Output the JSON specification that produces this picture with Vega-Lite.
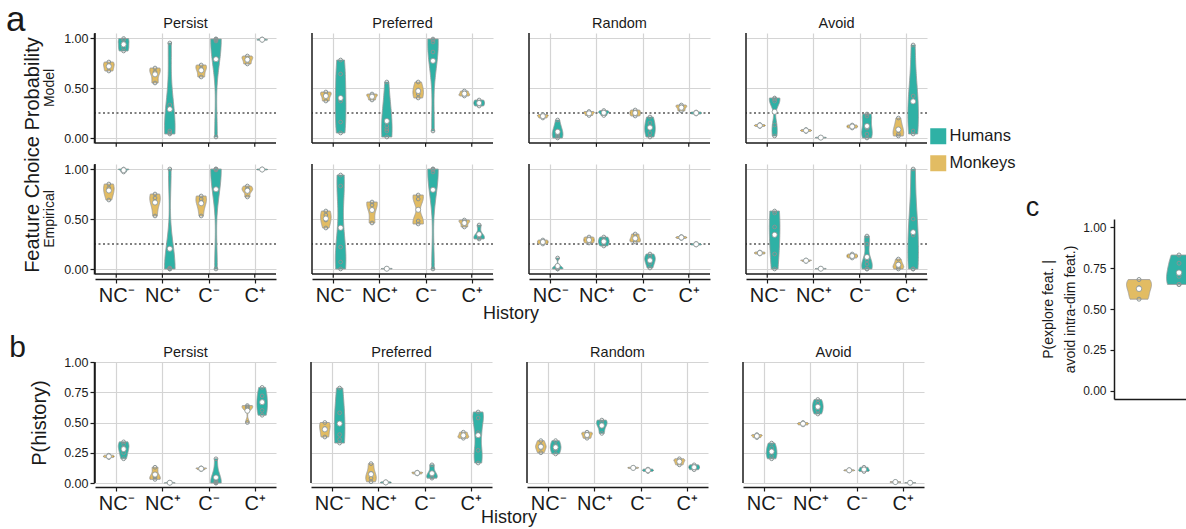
{
"$schema":"https://vega.github.io/schema/vega-lite/v6.json",
"padding":{"left":6,"top":2,"right":0,"bottom":0},
"config":{
 "font":"Liberation Sans",
 "view":{"stroke":null},
 "axis":{"gridColor":"#d4d4d4","gridWidth":1.2,"domainColor":"#1a1a1a","domainWidth":1.5,"tickColor":"#1a1a1a","tickWidth":1.2,"tickSize":4,"labelColor":"#1a1a1a","titleColor":"#1a1a1a","titleFontWeight":"normal","labelFontSize":12.5,"labelOverlap":false},
 "axisY":{"labelOverlap":false},
 "axisQuantitative":{"labelOverlap":false},
 "header":{"labelColor":"#1a1a1a","titleColor":"#1a1a1a","titleFontWeight":"normal"},
 "title":{"fontWeight":"normal","color":"#1a1a1a"}
},
"datasets":{
"a":[
{"p":"Model","c":"Persist","h":"NC-","s":"Monkeys","v":0.76},{"p":"Model","c":"Persist","h":"NC-","s":"Monkeys","v":0.72},{"p":"Model","c":"Persist","h":"NC-","s":"Monkeys","v":0.67},
{"p":"Model","c":"Persist","h":"NC-","s":"Humans","v":0.995},{"p":"Model","c":"Persist","h":"NC-","s":"Humans","v":0.98},{"p":"Model","c":"Persist","h":"NC-","s":"Humans","v":0.90},{"p":"Model","c":"Persist","h":"NC-","s":"Humans","v":0.87},
{"p":"Model","c":"Persist","h":"NC+","s":"Monkeys","v":0.70},{"p":"Model","c":"Persist","h":"NC+","s":"Monkeys","v":0.66},{"p":"Model","c":"Persist","h":"NC+","s":"Monkeys","v":0.55},
{"p":"Model","c":"Persist","h":"NC+","s":"Humans","v":0.95},{"p":"Model","c":"Persist","h":"NC+","s":"Humans","v":0.33},{"p":"Model","c":"Persist","h":"NC+","s":"Humans","v":0.07},{"p":"Model","c":"Persist","h":"NC+","s":"Humans","v":0.05},{"p":"Model","c":"Persist","h":"NC+","s":"Humans","v":0.04},
{"p":"Model","c":"Persist","h":"C-","s":"Monkeys","v":0.73},{"p":"Model","c":"Persist","h":"C-","s":"Monkeys","v":0.69},{"p":"Model","c":"Persist","h":"C-","s":"Monkeys","v":0.61},
{"p":"Model","c":"Persist","h":"C-","s":"Humans","v":0.99},{"p":"Model","c":"Persist","h":"C-","s":"Humans","v":0.99},{"p":"Model","c":"Persist","h":"C-","s":"Humans","v":0.98},{"p":"Model","c":"Persist","h":"C-","s":"Humans","v":0.97},{"p":"Model","c":"Persist","h":"C-","s":"Humans","v":0.01},
{"p":"Model","c":"Persist","h":"C+","s":"Monkeys","v":0.82},{"p":"Model","c":"Persist","h":"C+","s":"Monkeys","v":0.79},{"p":"Model","c":"Persist","h":"C+","s":"Monkeys","v":0.74},
{"p":"Model","c":"Persist","h":"C+","s":"Humans","v":0.99},{"p":"Model","c":"Persist","h":"C+","s":"Humans","v":0.985},{"p":"Model","c":"Persist","h":"C+","s":"Humans","v":0.98},{"p":"Model","c":"Persist","h":"C+","s":"Humans","v":0.978},
{"p":"Model","c":"Preferred","h":"NC-","s":"Monkeys","v":0.46},{"p":"Model","c":"Preferred","h":"NC-","s":"Monkeys","v":0.43},{"p":"Model","c":"Preferred","h":"NC-","s":"Monkeys","v":0.37},
{"p":"Model","c":"Preferred","h":"NC-","s":"Humans","v":0.78},{"p":"Model","c":"Preferred","h":"NC-","s":"Humans","v":0.64},{"p":"Model","c":"Preferred","h":"NC-","s":"Humans","v":0.37},{"p":"Model","c":"Preferred","h":"NC-","s":"Humans","v":0.16},{"p":"Model","c":"Preferred","h":"NC-","s":"Humans","v":0.05},
{"p":"Model","c":"Preferred","h":"NC+","s":"Monkeys","v":0.44},{"p":"Model","c":"Preferred","h":"NC+","s":"Monkeys","v":0.42},{"p":"Model","c":"Preferred","h":"NC+","s":"Monkeys","v":0.38},
{"p":"Model","c":"Preferred","h":"NC+","s":"Humans","v":0.56},{"p":"Model","c":"Preferred","h":"NC+","s":"Humans","v":0.12},{"p":"Model","c":"Preferred","h":"NC+","s":"Humans","v":0.09},{"p":"Model","c":"Preferred","h":"NC+","s":"Humans","v":0.07},{"p":"Model","c":"Preferred","h":"NC+","s":"Humans","v":0.01},
{"p":"Model","c":"Preferred","h":"C-","s":"Monkeys","v":0.56},{"p":"Model","c":"Preferred","h":"C-","s":"Monkeys","v":0.48},{"p":"Model","c":"Preferred","h":"C-","s":"Monkeys","v":0.44},{"p":"Model","c":"Preferred","h":"C-","s":"Monkeys","v":0.40},
{"p":"Model","c":"Preferred","h":"C-","s":"Humans","v":0.99},{"p":"Model","c":"Preferred","h":"C-","s":"Humans","v":0.98},{"p":"Model","c":"Preferred","h":"C-","s":"Humans","v":0.96},{"p":"Model","c":"Preferred","h":"C-","s":"Humans","v":0.86},{"p":"Model","c":"Preferred","h":"C-","s":"Humans","v":0.07},
{"p":"Model","c":"Preferred","h":"C+","s":"Monkeys","v":0.47},{"p":"Model","c":"Preferred","h":"C+","s":"Monkeys","v":0.44},{"p":"Model","c":"Preferred","h":"C+","s":"Monkeys","v":0.42},
{"p":"Model","c":"Preferred","h":"C+","s":"Humans","v":0.38},{"p":"Model","c":"Preferred","h":"C+","s":"Humans","v":0.35},{"p":"Model","c":"Preferred","h":"C+","s":"Humans","v":0.32},
{"p":"Model","c":"Random","h":"NC-","s":"Monkeys","v":0.235},{"p":"Model","c":"Random","h":"NC-","s":"Monkeys","v":0.22},{"p":"Model","c":"Random","h":"NC-","s":"Monkeys","v":0.20},
{"p":"Model","c":"Random","h":"NC-","s":"Humans","v":0.18},{"p":"Model","c":"Random","h":"NC-","s":"Humans","v":0.07},{"p":"Model","c":"Random","h":"NC-","s":"Humans","v":0.04},{"p":"Model","c":"Random","h":"NC-","s":"Humans","v":0.02},{"p":"Model","c":"Random","h":"NC-","s":"Humans","v":0.0},
{"p":"Model","c":"Random","h":"NC+","s":"Monkeys","v":0.265},{"p":"Model","c":"Random","h":"NC+","s":"Monkeys","v":0.25},{"p":"Model","c":"Random","h":"NC+","s":"Monkeys","v":0.225},
{"p":"Model","c":"Random","h":"NC+","s":"Humans","v":0.275},{"p":"Model","c":"Random","h":"NC+","s":"Humans","v":0.26},{"p":"Model","c":"Random","h":"NC+","s":"Humans","v":0.25},{"p":"Model","c":"Random","h":"NC+","s":"Humans","v":0.225},
{"p":"Model","c":"Random","h":"C-","s":"Monkeys","v":0.28},{"p":"Model","c":"Random","h":"C-","s":"Monkeys","v":0.25},{"p":"Model","c":"Random","h":"C-","s":"Monkeys","v":0.22},
{"p":"Model","c":"Random","h":"C-","s":"Humans","v":0.21},{"p":"Model","c":"Random","h":"C-","s":"Humans","v":0.15},{"p":"Model","c":"Random","h":"C-","s":"Humans","v":0.10},{"p":"Model","c":"Random","h":"C-","s":"Humans","v":0.05},{"p":"Model","c":"Random","h":"C-","s":"Humans","v":0.01},
{"p":"Model","c":"Random","h":"C+","s":"Monkeys","v":0.33},{"p":"Model","c":"Random","h":"C+","s":"Monkeys","v":0.31},{"p":"Model","c":"Random","h":"C+","s":"Monkeys","v":0.27},
{"p":"Model","c":"Random","h":"C+","s":"Humans","v":0.26},{"p":"Model","c":"Random","h":"C+","s":"Humans","v":0.25},{"p":"Model","c":"Random","h":"C+","s":"Humans","v":0.24},
{"p":"Model","c":"Avoid","h":"NC-","s":"Monkeys","v":0.135},{"p":"Model","c":"Avoid","h":"NC-","s":"Monkeys","v":0.125},{"p":"Model","c":"Avoid","h":"NC-","s":"Monkeys","v":0.115},
{"p":"Model","c":"Avoid","h":"NC-","s":"Humans","v":0.40},{"p":"Model","c":"Avoid","h":"NC-","s":"Humans","v":0.39},{"p":"Model","c":"Avoid","h":"NC-","s":"Humans","v":0.37},{"p":"Model","c":"Avoid","h":"NC-","s":"Humans","v":0.13},{"p":"Model","c":"Avoid","h":"NC-","s":"Humans","v":0.02},
{"p":"Model","c":"Avoid","h":"NC+","s":"Monkeys","v":0.085},{"p":"Model","c":"Avoid","h":"NC+","s":"Monkeys","v":0.075},{"p":"Model","c":"Avoid","h":"NC+","s":"Monkeys","v":0.065},
{"p":"Model","c":"Avoid","h":"NC+","s":"Humans","v":0.008},{"p":"Model","c":"Avoid","h":"NC+","s":"Humans","v":0.004},{"p":"Model","c":"Avoid","h":"NC+","s":"Humans","v":0.0},
{"p":"Model","c":"Avoid","h":"C-","s":"Monkeys","v":0.13},{"p":"Model","c":"Avoid","h":"C-","s":"Monkeys","v":0.115},{"p":"Model","c":"Avoid","h":"C-","s":"Monkeys","v":0.10},
{"p":"Model","c":"Avoid","h":"C-","s":"Humans","v":0.24},{"p":"Model","c":"Avoid","h":"C-","s":"Humans","v":0.22},{"p":"Model","c":"Avoid","h":"C-","s":"Humans","v":0.10},{"p":"Model","c":"Avoid","h":"C-","s":"Humans","v":0.04},{"p":"Model","c":"Avoid","h":"C-","s":"Humans","v":0.0},
{"p":"Model","c":"Avoid","h":"C+","s":"Monkeys","v":0.20},{"p":"Model","c":"Avoid","h":"C+","s":"Monkeys","v":0.08},{"p":"Model","c":"Avoid","h":"C+","s":"Monkeys","v":0.04},{"p":"Model","c":"Avoid","h":"C+","s":"Monkeys","v":0.02},
{"p":"Model","c":"Avoid","h":"C+","s":"Humans","v":0.93},{"p":"Model","c":"Avoid","h":"C+","s":"Humans","v":0.42},{"p":"Model","c":"Avoid","h":"C+","s":"Humans","v":0.37},{"p":"Model","c":"Avoid","h":"C+","s":"Humans","v":0.07},{"p":"Model","c":"Avoid","h":"C+","s":"Humans","v":0.04},
{"p":"Empirical","c":"Persist","h":"NC-","s":"Monkeys","v":0.85},{"p":"Empirical","c":"Persist","h":"NC-","s":"Monkeys","v":0.81},{"p":"Empirical","c":"Persist","h":"NC-","s":"Monkeys","v":0.79},{"p":"Empirical","c":"Persist","h":"NC-","s":"Monkeys","v":0.69},
{"p":"Empirical","c":"Persist","h":"NC-","s":"Humans","v":1.0},{"p":"Empirical","c":"Persist","h":"NC-","s":"Humans","v":0.995},{"p":"Empirical","c":"Persist","h":"NC-","s":"Humans","v":0.97},
{"p":"Empirical","c":"Persist","h":"NC+","s":"Monkeys","v":0.75},{"p":"Empirical","c":"Persist","h":"NC+","s":"Monkeys","v":0.71},{"p":"Empirical","c":"Persist","h":"NC+","s":"Monkeys","v":0.67},{"p":"Empirical","c":"Persist","h":"NC+","s":"Monkeys","v":0.53},
{"p":"Empirical","c":"Persist","h":"NC+","s":"Humans","v":1.0},{"p":"Empirical","c":"Persist","h":"NC+","s":"Humans","v":0.01},{"p":"Empirical","c":"Persist","h":"NC+","s":"Humans","v":0.005},{"p":"Empirical","c":"Persist","h":"NC+","s":"Humans","v":0.0},{"p":"Empirical","c":"Persist","h":"NC+","s":"Humans","v":0.0},
{"p":"Empirical","c":"Persist","h":"C-","s":"Monkeys","v":0.73},{"p":"Empirical","c":"Persist","h":"C-","s":"Monkeys","v":0.70},{"p":"Empirical","c":"Persist","h":"C-","s":"Monkeys","v":0.67},{"p":"Empirical","c":"Persist","h":"C-","s":"Monkeys","v":0.53},
{"p":"Empirical","c":"Persist","h":"C-","s":"Humans","v":1.0},{"p":"Empirical","c":"Persist","h":"C-","s":"Humans","v":1.0},{"p":"Empirical","c":"Persist","h":"C-","s":"Humans","v":0.995},{"p":"Empirical","c":"Persist","h":"C-","s":"Humans","v":0.99},{"p":"Empirical","c":"Persist","h":"C-","s":"Humans","v":0.0},
{"p":"Empirical","c":"Persist","h":"C+","s":"Monkeys","v":0.83},{"p":"Empirical","c":"Persist","h":"C+","s":"Monkeys","v":0.80},{"p":"Empirical","c":"Persist","h":"C+","s":"Monkeys","v":0.78},{"p":"Empirical","c":"Persist","h":"C+","s":"Monkeys","v":0.72},
{"p":"Empirical","c":"Persist","h":"C+","s":"Humans","v":1.0},{"p":"Empirical","c":"Persist","h":"C+","s":"Humans","v":0.995},{"p":"Empirical","c":"Persist","h":"C+","s":"Humans","v":0.99},
{"p":"Empirical","c":"Preferred","h":"NC-","s":"Monkeys","v":0.58},{"p":"Empirical","c":"Preferred","h":"NC-","s":"Monkeys","v":0.54},{"p":"Empirical","c":"Preferred","h":"NC-","s":"Monkeys","v":0.49},{"p":"Empirical","c":"Preferred","h":"NC-","s":"Monkeys","v":0.41},
{"p":"Empirical","c":"Preferred","h":"NC-","s":"Humans","v":0.94},{"p":"Empirical","c":"Preferred","h":"NC-","s":"Humans","v":0.83},{"p":"Empirical","c":"Preferred","h":"NC-","s":"Humans","v":0.22},{"p":"Empirical","c":"Preferred","h":"NC-","s":"Humans","v":0.07},{"p":"Empirical","c":"Preferred","h":"NC-","s":"Humans","v":0.0},
{"p":"Empirical","c":"Preferred","h":"NC+","s":"Monkeys","v":0.67},{"p":"Empirical","c":"Preferred","h":"NC+","s":"Monkeys","v":0.64},{"p":"Empirical","c":"Preferred","h":"NC+","s":"Monkeys","v":0.46},
{"p":"Empirical","c":"Preferred","h":"NC+","s":"Humans","v":0.006},{"p":"Empirical","c":"Preferred","h":"NC+","s":"Humans","v":0.003},{"p":"Empirical","c":"Preferred","h":"NC+","s":"Humans","v":0.0},
{"p":"Empirical","c":"Preferred","h":"C-","s":"Monkeys","v":0.74},{"p":"Empirical","c":"Preferred","h":"C-","s":"Monkeys","v":0.70},{"p":"Empirical","c":"Preferred","h":"C-","s":"Monkeys","v":0.48},{"p":"Empirical","c":"Preferred","h":"C-","s":"Monkeys","v":0.45},
{"p":"Empirical","c":"Preferred","h":"C-","s":"Humans","v":1.0},{"p":"Empirical","c":"Preferred","h":"C-","s":"Humans","v":1.0},{"p":"Empirical","c":"Preferred","h":"C-","s":"Humans","v":0.99},{"p":"Empirical","c":"Preferred","h":"C-","s":"Humans","v":0.97},{"p":"Empirical","c":"Preferred","h":"C-","s":"Humans","v":0.0},
{"p":"Empirical","c":"Preferred","h":"C+","s":"Monkeys","v":0.49},{"p":"Empirical","c":"Preferred","h":"C+","s":"Monkeys","v":0.47},{"p":"Empirical","c":"Preferred","h":"C+","s":"Monkeys","v":0.42},
{"p":"Empirical","c":"Preferred","h":"C+","s":"Humans","v":0.44},{"p":"Empirical","c":"Preferred","h":"C+","s":"Humans","v":0.34},{"p":"Empirical","c":"Preferred","h":"C+","s":"Humans","v":0.31},{"p":"Empirical","c":"Preferred","h":"C+","s":"Humans","v":0.30},
{"p":"Empirical","c":"Random","h":"NC-","s":"Monkeys","v":0.29},{"p":"Empirical","c":"Random","h":"NC-","s":"Monkeys","v":0.27},{"p":"Empirical","c":"Random","h":"NC-","s":"Monkeys","v":0.25},
{"p":"Empirical","c":"Random","h":"NC-","s":"Humans","v":0.11},{"p":"Empirical","c":"Random","h":"NC-","s":"Humans","v":0.03},{"p":"Empirical","c":"Random","h":"NC-","s":"Humans","v":0.01},{"p":"Empirical","c":"Random","h":"NC-","s":"Humans","v":0.0},{"p":"Empirical","c":"Random","h":"NC-","s":"Humans","v":0.0},
{"p":"Empirical","c":"Random","h":"NC+","s":"Monkeys","v":0.32},{"p":"Empirical","c":"Random","h":"NC+","s":"Monkeys","v":0.29},{"p":"Empirical","c":"Random","h":"NC+","s":"Monkeys","v":0.26},
{"p":"Empirical","c":"Random","h":"NC+","s":"Humans","v":0.32},{"p":"Empirical","c":"Random","h":"NC+","s":"Humans","v":0.29},{"p":"Empirical","c":"Random","h":"NC+","s":"Humans","v":0.26},{"p":"Empirical","c":"Random","h":"NC+","s":"Humans","v":0.23},
{"p":"Empirical","c":"Random","h":"C-","s":"Monkeys","v":0.35},{"p":"Empirical","c":"Random","h":"C-","s":"Monkeys","v":0.30},{"p":"Empirical","c":"Random","h":"C-","s":"Monkeys","v":0.27},
{"p":"Empirical","c":"Random","h":"C-","s":"Humans","v":0.15},{"p":"Empirical","c":"Random","h":"C-","s":"Humans","v":0.12},{"p":"Empirical","c":"Random","h":"C-","s":"Humans","v":0.09},{"p":"Empirical","c":"Random","h":"C-","s":"Humans","v":0.06},{"p":"Empirical","c":"Random","h":"C-","s":"Humans","v":0.01},
{"p":"Empirical","c":"Random","h":"C+","s":"Monkeys","v":0.325},{"p":"Empirical","c":"Random","h":"C+","s":"Monkeys","v":0.315},{"p":"Empirical","c":"Random","h":"C+","s":"Monkeys","v":0.305},
{"p":"Empirical","c":"Random","h":"C+","s":"Humans","v":0.255},{"p":"Empirical","c":"Random","h":"C+","s":"Humans","v":0.247},{"p":"Empirical","c":"Random","h":"C+","s":"Humans","v":0.24},
{"p":"Empirical","c":"Avoid","h":"NC-","s":"Monkeys","v":0.17},{"p":"Empirical","c":"Avoid","h":"NC-","s":"Monkeys","v":0.16},{"p":"Empirical","c":"Avoid","h":"NC-","s":"Monkeys","v":0.15},
{"p":"Empirical","c":"Avoid","h":"NC-","s":"Humans","v":0.58},{"p":"Empirical","c":"Avoid","h":"NC-","s":"Humans","v":0.56},{"p":"Empirical","c":"Avoid","h":"NC-","s":"Humans","v":0.42},{"p":"Empirical","c":"Avoid","h":"NC-","s":"Humans","v":0.15},{"p":"Empirical","c":"Avoid","h":"NC-","s":"Humans","v":0.0},
{"p":"Empirical","c":"Avoid","h":"NC+","s":"Monkeys","v":0.09},{"p":"Empirical","c":"Avoid","h":"NC+","s":"Monkeys","v":0.085},{"p":"Empirical","c":"Avoid","h":"NC+","s":"Monkeys","v":0.075},
{"p":"Empirical","c":"Avoid","h":"NC+","s":"Humans","v":0.006},{"p":"Empirical","c":"Avoid","h":"NC+","s":"Humans","v":0.003},{"p":"Empirical","c":"Avoid","h":"NC+","s":"Humans","v":0.0},
{"p":"Empirical","c":"Avoid","h":"C-","s":"Monkeys","v":0.15},{"p":"Empirical","c":"Avoid","h":"C-","s":"Monkeys","v":0.13},{"p":"Empirical","c":"Avoid","h":"C-","s":"Monkeys","v":0.11},
{"p":"Empirical","c":"Avoid","h":"C-","s":"Humans","v":0.33},{"p":"Empirical","c":"Avoid","h":"C-","s":"Humans","v":0.25},{"p":"Empirical","c":"Avoid","h":"C-","s":"Humans","v":0.09},{"p":"Empirical","c":"Avoid","h":"C-","s":"Humans","v":0.05},{"p":"Empirical","c":"Avoid","h":"C-","s":"Humans","v":0.0},{"p":"Empirical","c":"Avoid","h":"C-","s":"Humans","v":0.0},
{"p":"Empirical","c":"Avoid","h":"C+","s":"Monkeys","v":0.10},{"p":"Empirical","c":"Avoid","h":"C+","s":"Monkeys","v":0.05},{"p":"Empirical","c":"Avoid","h":"C+","s":"Monkeys","v":0.02},{"p":"Empirical","c":"Avoid","h":"C+","s":"Monkeys","v":0.0},
{"p":"Empirical","c":"Avoid","h":"C+","s":"Humans","v":1.0},{"p":"Empirical","c":"Avoid","h":"C+","s":"Humans","v":0.5},{"p":"Empirical","c":"Avoid","h":"C+","s":"Humans","v":0.34},{"p":"Empirical","c":"Avoid","h":"C+","s":"Humans","v":0.0},{"p":"Empirical","c":"Avoid","h":"C+","s":"Humans","v":0.0}
],
"b":[
{"c":"Persist","h":"NC-","s":"Monkeys","v":0.23},{"c":"Persist","h":"NC-","s":"Monkeys","v":0.22},{"c":"Persist","h":"NC-","s":"Monkeys","v":0.21},
{"c":"Persist","h":"NC-","s":"Humans","v":0.34},{"c":"Persist","h":"NC-","s":"Humans","v":0.32},{"c":"Persist","h":"NC-","s":"Humans","v":0.29},{"c":"Persist","h":"NC-","s":"Humans","v":0.25},{"c":"Persist","h":"NC-","s":"Humans","v":0.20},
{"c":"Persist","h":"NC+","s":"Monkeys","v":0.13},{"c":"Persist","h":"NC+","s":"Monkeys","v":0.05},{"c":"Persist","h":"NC+","s":"Monkeys","v":0.03},
{"c":"Persist","h":"NC+","s":"Humans","v":0.006},{"c":"Persist","h":"NC+","s":"Humans","v":0.003},{"c":"Persist","h":"NC+","s":"Humans","v":0.0},{"c":"Persist","h":"NC+","s":"Humans","v":0.0},
{"c":"Persist","h":"C-","s":"Monkeys","v":0.125},{"c":"Persist","h":"C-","s":"Monkeys","v":0.12},{"c":"Persist","h":"C-","s":"Monkeys","v":0.11},
{"c":"Persist","h":"C-","s":"Humans","v":0.20},{"c":"Persist","h":"C-","s":"Humans","v":0.02},{"c":"Persist","h":"C-","s":"Humans","v":0.01},{"c":"Persist","h":"C-","s":"Humans","v":0.0},{"c":"Persist","h":"C-","s":"Humans","v":0.0},
{"c":"Persist","h":"C+","s":"Monkeys","v":0.64},{"c":"Persist","h":"C+","s":"Monkeys","v":0.63},{"c":"Persist","h":"C+","s":"Monkeys","v":0.62},{"c":"Persist","h":"C+","s":"Monkeys","v":0.50},
{"c":"Persist","h":"C+","s":"Humans","v":0.79},{"c":"Persist","h":"C+","s":"Humans","v":0.72},{"c":"Persist","h":"C+","s":"Humans","v":0.67},{"c":"Persist","h":"C+","s":"Humans","v":0.60},{"c":"Persist","h":"C+","s":"Humans","v":0.56},
{"c":"Preferred","h":"NC-","s":"Monkeys","v":0.50},{"c":"Preferred","h":"NC-","s":"Monkeys","v":0.45},{"c":"Preferred","h":"NC-","s":"Monkeys","v":0.38},
{"c":"Preferred","h":"NC-","s":"Humans","v":0.785},{"c":"Preferred","h":"NC-","s":"Humans","v":0.58},{"c":"Preferred","h":"NC-","s":"Humans","v":0.40},{"c":"Preferred","h":"NC-","s":"Humans","v":0.36},{"c":"Preferred","h":"NC-","s":"Humans","v":0.33},
{"c":"Preferred","h":"NC+","s":"Monkeys","v":0.16},{"c":"Preferred","h":"NC+","s":"Monkeys","v":0.08},{"c":"Preferred","h":"NC+","s":"Monkeys","v":0.04},{"c":"Preferred","h":"NC+","s":"Monkeys","v":0.01},
{"c":"Preferred","h":"NC+","s":"Humans","v":0.01},{"c":"Preferred","h":"NC+","s":"Humans","v":0.005},{"c":"Preferred","h":"NC+","s":"Humans","v":0.0},
{"c":"Preferred","h":"C-","s":"Monkeys","v":0.09},{"c":"Preferred","h":"C-","s":"Monkeys","v":0.083},{"c":"Preferred","h":"C-","s":"Monkeys","v":0.075},
{"c":"Preferred","h":"C-","s":"Humans","v":0.15},{"c":"Preferred","h":"C-","s":"Humans","v":0.08},{"c":"Preferred","h":"C-","s":"Humans","v":0.05},{"c":"Preferred","h":"C-","s":"Humans","v":0.04},
{"c":"Preferred","h":"C+","s":"Monkeys","v":0.42},{"c":"Preferred","h":"C+","s":"Monkeys","v":0.39},{"c":"Preferred","h":"C+","s":"Monkeys","v":0.37},
{"c":"Preferred","h":"C+","s":"Humans","v":0.587},{"c":"Preferred","h":"C+","s":"Humans","v":0.537},{"c":"Preferred","h":"C+","s":"Humans","v":0.416},{"c":"Preferred","h":"C+","s":"Humans","v":0.27},{"c":"Preferred","h":"C+","s":"Humans","v":0.165},
{"c":"Random","h":"NC-","s":"Monkeys","v":0.35},{"c":"Random","h":"NC-","s":"Monkeys","v":0.31},{"c":"Random","h":"NC-","s":"Monkeys","v":0.29},{"c":"Random","h":"NC-","s":"Monkeys","v":0.25},
{"c":"Random","h":"NC-","s":"Humans","v":0.35},{"c":"Random","h":"NC-","s":"Humans","v":0.31},{"c":"Random","h":"NC-","s":"Humans","v":0.28},{"c":"Random","h":"NC-","s":"Humans","v":0.24},
{"c":"Random","h":"NC+","s":"Monkeys","v":0.42},{"c":"Random","h":"NC+","s":"Monkeys","v":0.40},{"c":"Random","h":"NC+","s":"Monkeys","v":0.37},
{"c":"Random","h":"NC+","s":"Humans","v":0.52},{"c":"Random","h":"NC+","s":"Humans","v":0.50},{"c":"Random","h":"NC+","s":"Humans","v":0.47},{"c":"Random","h":"NC+","s":"Humans","v":0.41},
{"c":"Random","h":"C-","s":"Monkeys","v":0.13},{"c":"Random","h":"C-","s":"Monkeys","v":0.125},{"c":"Random","h":"C-","s":"Monkeys","v":0.12},
{"c":"Random","h":"C-","s":"Humans","v":0.115},{"c":"Random","h":"C-","s":"Humans","v":0.105},{"c":"Random","h":"C-","s":"Humans","v":0.095},
{"c":"Random","h":"C+","s":"Monkeys","v":0.20},{"c":"Random","h":"C+","s":"Monkeys","v":0.18},{"c":"Random","h":"C+","s":"Monkeys","v":0.15},
{"c":"Random","h":"C+","s":"Humans","v":0.15},{"c":"Random","h":"C+","s":"Humans","v":0.13},{"c":"Random","h":"C+","s":"Humans","v":0.11},
{"c":"Avoid","h":"NC-","s":"Monkeys","v":0.40},{"c":"Avoid","h":"NC-","s":"Monkeys","v":0.39},{"c":"Avoid","h":"NC-","s":"Monkeys","v":0.375},
{"c":"Avoid","h":"NC-","s":"Humans","v":0.33},{"c":"Avoid","h":"NC-","s":"Humans","v":0.29},{"c":"Avoid","h":"NC-","s":"Humans","v":0.26},{"c":"Avoid","h":"NC-","s":"Humans","v":0.22},{"c":"Avoid","h":"NC-","s":"Humans","v":0.20},
{"c":"Avoid","h":"NC+","s":"Monkeys","v":0.50},{"c":"Avoid","h":"NC+","s":"Monkeys","v":0.49},{"c":"Avoid","h":"NC+","s":"Monkeys","v":0.48},
{"c":"Avoid","h":"NC+","s":"Humans","v":0.69},{"c":"Avoid","h":"NC+","s":"Humans","v":0.66},{"c":"Avoid","h":"NC+","s":"Humans","v":0.63},{"c":"Avoid","h":"NC+","s":"Humans","v":0.60},{"c":"Avoid","h":"NC+","s":"Humans","v":0.57},
{"c":"Avoid","h":"C-","s":"Monkeys","v":0.11},{"c":"Avoid","h":"C-","s":"Monkeys","v":0.105},{"c":"Avoid","h":"C-","s":"Monkeys","v":0.10},
{"c":"Avoid","h":"C-","s":"Humans","v":0.13},{"c":"Avoid","h":"C-","s":"Humans","v":0.11},{"c":"Avoid","h":"C-","s":"Humans","v":0.095},
{"c":"Avoid","h":"C+","s":"Monkeys","v":0.012},{"c":"Avoid","h":"C+","s":"Monkeys","v":0.008},{"c":"Avoid","h":"C+","s":"Monkeys","v":0.004},
{"c":"Avoid","h":"C+","s":"Humans","v":0.004},{"c":"Avoid","h":"C+","s":"Humans","v":0.002},{"c":"Avoid","h":"C+","s":"Humans","v":0.0}
],
"c":[
{"s":"Monkeys","v":0.68},{"s":"Monkeys","v":0.63},{"s":"Monkeys","v":0.56},
{"s":"Humans","v":0.83},{"s":"Humans","v":0.78},{"s":"Humans","v":0.70},{"s":"Humans","v":0.65},{"s":"Humans","v":0.65}
]
},
"hconcat":[
{"vconcat":[
 {
  "data":{"name":"a"},
  "title":{"text":"a","orient":"left","anchor":"end","angle":0,"fontSize":35,"baseline":"top","align":"right","offset":-22,"dy":-13},
  "facet":{
   "row":{"field":"p","type":"nominal","sort":["Model","Empirical"],"title":"Feature Choice Probability","header":{"labelOrient":"left","labelFontSize":14,"labelPadding":7,"titleOrient":"left","titleFontSize":20,"titlePadding":-11}},
   "column":{"field":"c","type":"nominal","sort":["Persist","Preferred","Random","Avoid"],"title":"History","header":{"labelOrient":"top","labelFontSize":14.5,"labelPadding":1,"titleOrient":"bottom","titleFontSize":18,"titlePadding":-10}}
  },
  "spacing":{"row":15,"column":34},
  "spec":{
   "width":181,"height":110,
   "layer":[
    {"transform":[{"aggregate":[{"op":"count","as":"n"}],"groupby":["p","c"]}],
     "mark":{"type":"rule","strokeDash":[2,2.5],"color":"#555","strokeWidth":1.6},
     "encoding":{"y":{"datum":0.25,"type":"quantitative","scale":{"domain":[-0.05,1.05],"nice":false,"zero":false},"axis":{"values":[0,0.25,0.5,0.75,1],"format":".2f","title":null,"grid":true,"labelOverlap":false}}}},
    {"transform":[
      {"joinaggregate":[{"op":"min","field":"v","as":"vmin"},{"op":"max","field":"v","as":"vmax"}],"groupby":["p","c","h","s"]},
      {"filter":"datum.vmax-datum.vmin>0.45"},
      {"density":"v","groupby":["p","c","h","s"],"bandwidth":0.25,"resolve":"independent","as":["v","d"]},
      {"joinaggregate":[{"op":"max","field":"d","as":"dm"}],"groupby":["p","c","h","s"]},
      {"calculate":"indexof(['NC-','NC+','C-','C+'],datum.h)+1+(datum.s=='Humans'?0.16:-0.16)","as":"xc"},
      {"calculate":"datum.xc-0.115*datum.d/datum.dm","as":"xl"},
      {"calculate":"datum.xc+0.115*datum.d/datum.dm","as":"xr"}],
     "mark":{"type":"area","orient":"horizontal","stroke":"#9a9a9a","strokeWidth":0.8,"opacity":1},
     "encoding":{
      "y":{"field":"v","type":"quantitative","scale":{"domain":[-0.05,1.05],"nice":false,"zero":false},"axis":{"values":[0,0.25,0.5,0.75,1],"format":".2f","title":null,"grid":true,"labelOverlap":false}},
      "x":{"field":"xl","type":"quantitative","title":null,"stack":null,"scale":{"domain":[0.54,4.46],"nice":false,"zero":false},"axis":{"values":[1,2,3,4],"labelExpr":"['NC⁻','NC⁺','C⁻','C⁺'][datum.value-1]","labelFontSize":20,"labelPadding":2,"title":null,"grid":true}},
      "x2":{"field":"xr"},
      "color":{"field":"s","type":"nominal","scale":{"domain":["Humans","Monkeys"],"range":["#2fb1a5","#e2bc63"]},"legend":{"orient":"none","legendX":835,"legendY":95,"title":null,"symbolType":"square","symbolSize":256,"symbolStrokeWidth":0,"symbolOpacity":1,"labelFontSize":16.5,"labelColor":"#1a1a1a","rowPadding":10,"labelOffset":3}},
      "detail":{"field":"h"}}},
    {"transform":[
      {"joinaggregate":[{"op":"min","field":"v","as":"vmin"},{"op":"max","field":"v","as":"vmax"}],"groupby":["p","c","h","s"]},
      {"filter":"datum.vmax-datum.vmin>0.15 && datum.vmax-datum.vmin<=0.45"},
      {"density":"v","groupby":["p","c","h","s"],"bandwidth":0.07,"resolve":"independent","as":["v","d"]},
      {"joinaggregate":[{"op":"max","field":"d","as":"dm"}],"groupby":["p","c","h","s"]},
      {"calculate":"indexof(['NC-','NC+','C-','C+'],datum.h)+1+(datum.s=='Humans'?0.16:-0.16)","as":"xc"},
      {"calculate":"datum.xc-0.115*datum.d/datum.dm","as":"xl"},
      {"calculate":"datum.xc+0.115*datum.d/datum.dm","as":"xr"}],
     "mark":{"type":"area","orient":"horizontal","stroke":"#9a9a9a","strokeWidth":0.8,"opacity":1},
     "encoding":{
      "y":{"field":"v","type":"quantitative","axis":{"values":[0,0.25,0.5,0.75,1],"format":".2f","title":null,"grid":true,"labelOverlap":false}},
      "x":{"field":"xl","type":"quantitative","title":null,"stack":null},
      "x2":{"field":"xr"},
      "color":{"field":"s","type":"nominal"},
      "detail":{"field":"h"}}},
    {"transform":[
      {"joinaggregate":[{"op":"min","field":"v","as":"vmin"},{"op":"max","field":"v","as":"vmax"}],"groupby":["p","c","h","s"]},
      {"filter":"datum.vmax-datum.vmin<=0.15"},
      {"density":"v","groupby":["p","c","h","s"],"resolve":"independent","as":["v","d"]},
      {"joinaggregate":[{"op":"max","field":"d","as":"dm"}],"groupby":["p","c","h","s"]},
      {"calculate":"indexof(['NC-','NC+','C-','C+'],datum.h)+1+(datum.s=='Humans'?0.16:-0.16)","as":"xc"},
      {"calculate":"datum.xc-0.115*datum.d/datum.dm","as":"xl"},
      {"calculate":"datum.xc+0.115*datum.d/datum.dm","as":"xr"}],
     "mark":{"type":"area","orient":"horizontal","stroke":"#9a9a9a","strokeWidth":0.8,"opacity":1},
     "encoding":{
      "y":{"field":"v","type":"quantitative","axis":{"values":[0,0.25,0.5,0.75,1],"format":".2f","title":null,"grid":true,"labelOverlap":false}},
      "x":{"field":"xl","type":"quantitative","title":null,"stack":null},
      "x2":{"field":"xr"},
      "color":{"field":"s","type":"nominal"},
      "detail":{"field":"h"}}},
    {"transform":[{"calculate":"indexof(['NC-','NC+','C-','C+'],datum.h)+1+(datum.s=='Humans'?0.16:-0.16)","as":"xc"}],
     "mark":{"type":"point","filled":false,"stroke":"#8a9494","strokeWidth":1,"size":14,"opacity":1},
     "encoding":{"x":{"field":"xc","type":"quantitative","title":null},"y":{"field":"v","type":"quantitative","axis":{"values":[0,0.25,0.5,0.75,1],"format":".2f","title":null,"grid":true,"labelOverlap":false}}}},
    {"transform":[{"aggregate":[{"op":"mean","field":"v","as":"v"}],"groupby":["p","c","h","s"]},{"calculate":"indexof(['NC-','NC+','C-','C+'],datum.h)+1+(datum.s=='Humans'?0.16:-0.16)","as":"xc"}],
     "mark":{"type":"point","filled":true,"fill":"white","stroke":"#8a9494","strokeWidth":0.8,"size":26,"opacity":1},
     "encoding":{"x":{"field":"xc","type":"quantitative","title":null},"y":{"field":"v","type":"quantitative","axis":{"values":[0,0.25,0.5,0.75,1],"format":".2f","title":null,"grid":true,"labelOverlap":false}}}},
    {"transform":[{"aggregate":[{"op":"count","as":"n"}],"groupby":["p","c"]}],
     "mark":{"type":"rule","color":"#1a1a1a","strokeWidth":1.5},
     "encoding":{"y":{"datum":-0.05,"type":"quantitative"}}},
    {"transform":[{"aggregate":[{"op":"count","as":"n"}],"groupby":["p","c"]}],
     "mark":{"type":"rule","color":"#1a1a1a","strokeWidth":1.5},
     "encoding":{"x":{"datum":0.54,"type":"quantitative"}}},
    {"transform":[{"aggregate":[{"op":"count","as":"n"}],"groupby":["p","c","h"]},{"calculate":"indexof(['NC-','NC+','C-','C+'],datum.h)+1","as":"hx"}],
     "mark":{"type":"rule","color":"#1a1a1a","strokeWidth":1.2,"clip":false},
     "encoding":{"x":{"field":"hx","type":"quantitative","title":null},"y":{"datum":-0.05,"type":"quantitative"},"y2":{"datum":-0.088}}}
   ]
  }
 },
 {
  "data":{"name":"b"},
  "title":{"text":"b","orient":"left","anchor":"end","angle":0,"fontSize":30,"baseline":"top","align":"right","offset":-13,"dy":-12},
  "facet":{
   "column":{"field":"c","type":"nominal","sort":["Persist","Preferred","Random","Avoid"],"title":"History","header":{"labelOrient":"top","labelFontSize":14.5,"labelPadding":1,"titleOrient":"bottom","titleFontSize":18,"titlePadding":-14}}
  },
  "spacing":{"column":34},
  "spec":{
   "width":181,"height":121,
   "layer":[
    {"transform":[
      {"joinaggregate":[{"op":"min","field":"v","as":"vmin"},{"op":"max","field":"v","as":"vmax"}],"groupby":["c","h","s"]},
      {"filter":"datum.vmax-datum.vmin>0.45"},
      {"density":"v","groupby":["c","h","s"],"bandwidth":0.25,"resolve":"independent","as":["v","d"]},
      {"joinaggregate":[{"op":"max","field":"d","as":"dm"}],"groupby":["c","h","s"]},
      {"calculate":"indexof(['NC-','NC+','C-','C+'],datum.h)+1+(datum.s=='Humans'?0.16:-0.16)","as":"xc"},
      {"calculate":"datum.xc-0.115*datum.d/datum.dm","as":"xl"},
      {"calculate":"datum.xc+0.115*datum.d/datum.dm","as":"xr"}],
     "mark":{"type":"area","orient":"horizontal","stroke":"#9a9a9a","strokeWidth":0.8,"opacity":1},
     "encoding":{
      "y":{"field":"v","type":"quantitative","scale":{"domain":[0,1],"nice":false,"zero":false},"axis":{"values":[0,0.25,0.5,0.75,1],"format":".2f","title":"P(history)","titleFontSize":20,"titlePadding":14,"grid":true,"labelOverlap":false}},
      "x":{"field":"xl","type":"quantitative","title":null,"stack":null,"scale":{"domain":[0.54,4.46],"nice":false,"zero":false},"axis":{"values":[1,2,3,4],"labelExpr":"['NC⁻','NC⁺','C⁻','C⁺'][datum.value-1]","labelFontSize":20,"labelPadding":2,"title":null,"grid":true}},
      "x2":{"field":"xr"},
      "color":{"field":"s","type":"nominal","scale":{"domain":["Humans","Monkeys"],"range":["#2fb1a5","#e2bc63"]},"legend":{"orient":"none","legendX":835,"legendY":95,"title":null,"symbolType":"square","symbolSize":256,"symbolStrokeWidth":0,"symbolOpacity":1,"labelFontSize":16.5,"labelColor":"#1a1a1a","rowPadding":10,"labelOffset":3}},
      "detail":{"field":"h"}}},
    {"transform":[
      {"joinaggregate":[{"op":"min","field":"v","as":"vmin"},{"op":"max","field":"v","as":"vmax"}],"groupby":["c","h","s"]},
      {"filter":"datum.vmax-datum.vmin>0.15 && datum.vmax-datum.vmin<=0.45"},
      {"density":"v","groupby":["c","h","s"],"bandwidth":0.07,"resolve":"independent","as":["v","d"]},
      {"joinaggregate":[{"op":"max","field":"d","as":"dm"}],"groupby":["c","h","s"]},
      {"calculate":"indexof(['NC-','NC+','C-','C+'],datum.h)+1+(datum.s=='Humans'?0.16:-0.16)","as":"xc"},
      {"calculate":"datum.xc-0.115*datum.d/datum.dm","as":"xl"},
      {"calculate":"datum.xc+0.115*datum.d/datum.dm","as":"xr"}],
     "mark":{"type":"area","orient":"horizontal","stroke":"#9a9a9a","strokeWidth":0.8,"opacity":1},
     "encoding":{
      "y":{"field":"v","type":"quantitative","axis":{"values":[0,0.25,0.5,0.75,1],"format":".2f","title":"P(history)","titleFontSize":20,"titlePadding":14,"grid":true,"labelOverlap":false}},
      "x":{"field":"xl","type":"quantitative","title":null,"stack":null},
      "x2":{"field":"xr"},
      "color":{"field":"s","type":"nominal"},
      "detail":{"field":"h"}}},
    {"transform":[
      {"joinaggregate":[{"op":"min","field":"v","as":"vmin"},{"op":"max","field":"v","as":"vmax"}],"groupby":["c","h","s"]},
      {"filter":"datum.vmax-datum.vmin<=0.15"},
      {"density":"v","groupby":["c","h","s"],"resolve":"independent","as":["v","d"]},
      {"joinaggregate":[{"op":"max","field":"d","as":"dm"}],"groupby":["c","h","s"]},
      {"calculate":"indexof(['NC-','NC+','C-','C+'],datum.h)+1+(datum.s=='Humans'?0.16:-0.16)","as":"xc"},
      {"calculate":"datum.xc-0.115*datum.d/datum.dm","as":"xl"},
      {"calculate":"datum.xc+0.115*datum.d/datum.dm","as":"xr"}],
     "mark":{"type":"area","orient":"horizontal","stroke":"#9a9a9a","strokeWidth":0.8,"opacity":1},
     "encoding":{
      "y":{"field":"v","type":"quantitative","axis":{"values":[0,0.25,0.5,0.75,1],"format":".2f","title":"P(history)","titleFontSize":20,"titlePadding":14,"grid":true,"labelOverlap":false}},
      "x":{"field":"xl","type":"quantitative","title":null,"stack":null},
      "x2":{"field":"xr"},
      "color":{"field":"s","type":"nominal"},
      "detail":{"field":"h"}}},
    {"transform":[{"calculate":"indexof(['NC-','NC+','C-','C+'],datum.h)+1+(datum.s=='Humans'?0.16:-0.16)","as":"xc"}],
     "mark":{"type":"point","filled":false,"stroke":"#8a9494","strokeWidth":1,"size":14,"opacity":1},
     "encoding":{"x":{"field":"xc","type":"quantitative","title":null},"y":{"field":"v","type":"quantitative","axis":{"values":[0,0.25,0.5,0.75,1],"format":".2f","title":"P(history)","titleFontSize":20,"titlePadding":14,"grid":true,"labelOverlap":false}}}},
    {"transform":[{"aggregate":[{"op":"mean","field":"v","as":"v"}],"groupby":["c","h","s"]},{"calculate":"indexof(['NC-','NC+','C-','C+'],datum.h)+1+(datum.s=='Humans'?0.16:-0.16)","as":"xc"}],
     "mark":{"type":"point","filled":true,"fill":"white","stroke":"#8a9494","strokeWidth":0.8,"size":26,"opacity":1},
     "encoding":{"x":{"field":"xc","type":"quantitative","title":null},"y":{"field":"v","type":"quantitative","axis":{"values":[0,0.25,0.5,0.75,1],"format":".2f","title":"P(history)","titleFontSize":20,"titlePadding":14,"grid":true,"labelOverlap":false}}}},
    {"transform":[{"aggregate":[{"op":"count","as":"n"}],"groupby":["c"]}],
     "mark":{"type":"rule","color":"#1a1a1a","strokeWidth":1.5},
     "encoding":{"x":{"datum":0.54,"type":"quantitative"}}}
   ]
  }
 }
],"spacing":9},
{"vconcat":[
 {"width":10,"height":161,"data":{"values":[{}]},"mark":{"type":"point","opacity":0},"encoding":{}},
 {
  "data":{"name":"c"},
  "title":{"text":"c","anchor":"start","fontSize":27,"offset":-3,"dx":-16},
  "width":81,"height":180,
  "layer":[
    {"transform":[
      {"joinaggregate":[{"op":"min","field":"v","as":"vmin"},{"op":"max","field":"v","as":"vmax"}],"groupby":["s"]},
      {"filter":"datum.vmax-datum.vmin>0.15"},
      {"density":"v","groupby":["s"],"bandwidth":0.07,"resolve":"independent","as":["v","d"]},
      {"joinaggregate":[{"op":"max","field":"d","as":"dm"}],"groupby":["s"]},
      {"calculate":"1+(datum.s=='Humans'?0.2:-0.2)","as":"xc"},
      {"calculate":"datum.xc-0.125*datum.d/datum.dm","as":"xl"},
      {"calculate":"datum.xc+0.125*datum.d/datum.dm","as":"xr"}],
     "mark":{"type":"area","orient":"horizontal","stroke":"#9a9a9a","strokeWidth":0.8,"opacity":1},
     "encoding":{
      "y":{"field":"v","type":"quantitative","scale":{"domain":[-0.05,1.05],"nice":false,"zero":false},"axis":{"values":[0,0.25,0.5,0.75,1],"format":".2f","title":["P(explore feat. |","avoid intra-dim feat.)"],"titleFontSize":14,"titleLineHeight":22,"titlePadding":5,"labelFontSize":12,"labelPadding":4,"grid":false,"labelOverlap":false}},
      "x":{"field":"xl","type":"quantitative","stack":null,"scale":{"domain":[0.55,1.36],"nice":false,"zero":false},"axis":{"labels":false,"ticks":false,"grid":false,"title":null}},
      "x2":{"field":"xr"},
      "color":{"field":"s","type":"nominal","scale":{"domain":["Humans","Monkeys"],"range":["#2fb1a5","#e2bc63"]},"legend":{"orient":"none","legendX":835,"legendY":95,"title":null,"symbolType":"square","symbolSize":256,"symbolStrokeWidth":0,"symbolOpacity":1,"labelFontSize":16.5,"labelColor":"#1a1a1a","rowPadding":10,"labelOffset":3}}}},
    {"transform":[
      {"joinaggregate":[{"op":"min","field":"v","as":"vmin"},{"op":"max","field":"v","as":"vmax"}],"groupby":["s"]},
      {"filter":"datum.vmax-datum.vmin<=0.15"},
      {"density":"v","groupby":["s"],"resolve":"independent","as":["v","d"]},
      {"joinaggregate":[{"op":"max","field":"d","as":"dm"}],"groupby":["s"]},
      {"calculate":"1+(datum.s=='Humans'?0.2:-0.2)","as":"xc"},
      {"calculate":"datum.xc-0.125*datum.d/datum.dm","as":"xl"},
      {"calculate":"datum.xc+0.125*datum.d/datum.dm","as":"xr"}],
     "mark":{"type":"area","orient":"horizontal","stroke":"#9a9a9a","strokeWidth":0.8,"opacity":1},
     "encoding":{
      "y":{"field":"v","type":"quantitative"},
      "x":{"field":"xl","type":"quantitative","stack":null},
      "x2":{"field":"xr"},
      "color":{"field":"s","type":"nominal"}}},
    {"transform":[{"calculate":"1+(datum.s=='Humans'?0.2:-0.2)","as":"xc"}],
     "mark":{"type":"point","filled":false,"stroke":"#8a9494","strokeWidth":1,"size":16,"opacity":1},
     "encoding":{"x":{"field":"xc","type":"quantitative"},"y":{"field":"v","type":"quantitative"}}},
    {"transform":[{"aggregate":[{"op":"mean","field":"v","as":"v"}],"groupby":["s"]},{"calculate":"1+(datum.s=='Humans'?0.2:-0.2)","as":"xc"}],
     "mark":{"type":"point","filled":true,"fill":"white","stroke":"#8a9494","strokeWidth":0.8,"size":30,"opacity":1},
     "encoding":{"x":{"field":"xc","type":"quantitative"},"y":{"field":"v","type":"quantitative"}}}
  ]
 }
],"spacing":0}
],
"spacing":97
}
